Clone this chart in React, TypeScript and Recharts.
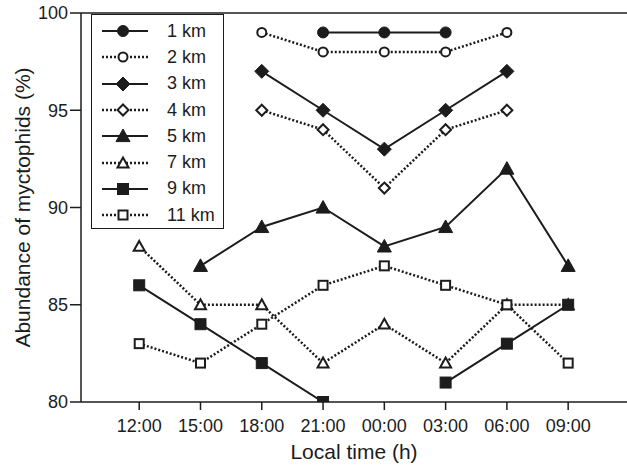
import React from "react";
import { LineChart, Line, XAxis, YAxis, ReferenceLine, Legend, Label } from "recharts";

const times = ["12:00", "15:00", "18:00", "21:00", "00:00", "03:00", "06:00", "09:00"];
const km1 = [null, null, null, 99, 99, 99, null, null];
const km2 = [null, null, 99, 98, 98, 98, 99, null];
const km3 = [null, null, 97, 95, 93, 95, 97, null];
const km4 = [null, null, 95, 94, 91, 94, 95, null];
const km5 = [null, 87, 89, 90, 88, 89, 92, 87];
const km7 = [88, 85, 85, 82, 84, 82, 85, 85];
const km9 = [86, 84, 82, 80, null, 81, 83, 85];
const km11 = [83, 82, 84, 86, 87, 86, 85, 82];
const yTicks = [80, 85, 90, 95, 100];

type Shape = "circle" | "diamond" | "triangle" | "square";

const series: { key: string; name: string; values: (number | null)[]; shape: Shape; filled: boolean }[] = [
  { key: "km1", name: "1 km", values: km1, shape: "circle", filled: true },
  { key: "km2", name: "2 km", values: km2, shape: "circle", filled: false },
  { key: "km3", name: "3 km", values: km3, shape: "diamond", filled: true },
  { key: "km4", name: "4 km", values: km4, shape: "diamond", filled: false },
  { key: "km5", name: "5 km", values: km5, shape: "triangle", filled: true },
  { key: "km7", name: "7 km", values: km7, shape: "triangle", filled: false },
  { key: "km9", name: "9 km", values: km9, shape: "square", filled: true },
  { key: "km11", name: "11 km", values: km11, shape: "square", filled: false },
];

const data = times.map((t, i) => {
  const row: any = { x: i, label: t };
  series.forEach((s) => {
    row[s.key] = s.values[i];
  });
  return row;
});

const INK = "#1c1c1c";
const FONT = "'Liberation Sans', Arial, Helvetica, sans-serif";

const Marker = ({ cx, cy, shape, filled }: { cx: number; cy: number; shape: Shape; filled: boolean }) => {
  const fill = filled ? INK : "#fff";
  const sw = filled ? 1 : 2;
  if (shape === "circle") {
    const r = filled ? 5.5 : 4.5;
    return <circle cx={cx} cy={cy} r={r} fill={fill} stroke={INK} strokeWidth={sw} />;
  }
  if (shape === "diamond") {
    const d = filled ? 7 : 5.5;
    return (
      <polygon
        points={`${cx},${cy - d} ${cx + d},${cy} ${cx},${cy + d} ${cx - d},${cy}`}
        fill={fill}
        stroke={INK}
        strokeWidth={sw}
      />
    );
  }
  if (shape === "triangle") {
    const d = filled ? 7 : 5.5;
    return (
      <polygon
        points={`${cx},${cy - d} ${cx + d},${cy + d * 0.8} ${cx - d},${cy + d * 0.8}`}
        fill={fill}
        stroke={INK}
        strokeWidth={sw}
        strokeLinejoin="miter"
      />
    );
  }
  const h = filled ? 5.5 : 4.5;
  return <rect x={cx - h} y={cy - h} width={h * 2} height={h * 2} fill={fill} stroke={INK} strokeWidth={sw} />;
};

const renderLegend = () => (
  <div
    style={{
      border: `1.5px solid ${INK}`,
      width: 131,
      height: 210,
      paddingTop: 3,
      background: "#fff",
      boxSizing: "content-box",
    }}
  >
    {series.map((s) => (
      <div key={s.key} style={{ height: 26.3, display: "flex", alignItems: "center" }}>
        <svg width={70} height={20} style={{ display: "block" }}>
          <line
            x1={10}
            x2={56}
            y1={10}
            y2={10}
            stroke={INK}
            strokeWidth={s.filled ? 2 : 2.5}
            strokeDasharray={s.filled ? undefined : "2 2"}
          />
          <Marker cx={31} cy={10} shape={s.shape} filled={s.filled} />
        </svg>
        <span style={{ fontFamily: FONT, fontSize: 18, color: INK, marginLeft: 5 }}>{s.name}</span>
      </div>
    ))}
  </div>
);

const renderYLabel = (props: any) => {
  const vb = props.viewBox || { x: 0, y: 13, width: 81, height: 389 };
  const cx = 22;
  const cy = vb.y + vb.height / 2;
  return (
    <text
      x={cx}
      y={cy}
      transform={`rotate(-90, ${cx}, ${cy})`}
      textAnchor="middle"
      dominantBaseline="central"
      fontFamily={FONT}
      fontSize={21}
      fill={INK}
    >
      Abundance of myctophids (%)
    </text>
  );
};

const renderXLabel = (props: any) => {
  const vb = props.viewBox || { x: 81, y: 402, width: 546, height: 66 };
  return (
    <text
      x={vb.x + vb.width / 2}
      y={459}
      textAnchor="middle"
      fontFamily={FONT}
      fontSize={21}
      fill={INK}
    >
      Local time (h)
    </text>
  );
};

export default function App() {
  return (
    <div style={{ position: "absolute", left: 0, top: 0, width: 627, height: 468, background: "#fff", overflow: "hidden" }}>
      <LineChart width={627} height={468} data={data} margin={{ top: 13, right: 0, bottom: 0, left: 0 }}>
        <XAxis
          dataKey="x"
          type="number"
          domain={[-0.95, 7.96]}
          ticks={[0, 1, 2, 3, 4, 5, 6, 7]}
          tickFormatter={(v: number) => times[v] ?? ""}
          height={66}
          tickSize={8}
          tickMargin={9}
          allowDataOverflow
          axisLine={{ stroke: INK, strokeWidth: 1.5 }}
          tickLine={{ stroke: INK, strokeWidth: 1.5 }}
          tick={{ fill: INK, fontFamily: FONT, fontSize: 18 }}
        >
          <Label content={renderXLabel} />
        </XAxis>
        <YAxis
          type="number"
          domain={[80, 100]}
          ticks={yTicks}
          width={81}
          tickSize={11}
          tickMargin={2}
          allowDataOverflow
          axisLine={{ stroke: INK, strokeWidth: 1.5 }}
          tickLine={{ stroke: INK, strokeWidth: 1.5 }}
          tick={{ fill: INK, fontFamily: FONT, fontSize: 18 }}
        >
          <Label content={renderYLabel} />
        </YAxis>
        <ReferenceLine y={100} stroke="#555" strokeWidth={2} />
        {series.map((s) => (
          <Line
            key={s.key}
            dataKey={s.key}
            name={s.name}
            type="linear"
            stroke={INK}
            strokeWidth={s.filled ? 2 : 2.5}
            strokeDasharray={s.filled ? undefined : "2 2"}
            connectNulls={false}
            isAnimationActive={false}
            dot={(p: any) =>
              p.cx == null || p.cy == null || p.value == null ? (
                <g key={p.key} />
              ) : (
                <Marker key={p.key} cx={p.cx} cy={p.cy} shape={s.shape} filled={s.filled} />
              )
            }
            activeDot={false}
          />
        ))}
        <Legend
          layout="vertical"
          align="center"
          verticalAlign="middle"
          content={renderLegend}
          wrapperStyle={{ position: "absolute", left: 91, top: 14, width: 134, height: 215 }}
        />
      </LineChart>
    </div>
  );
}
